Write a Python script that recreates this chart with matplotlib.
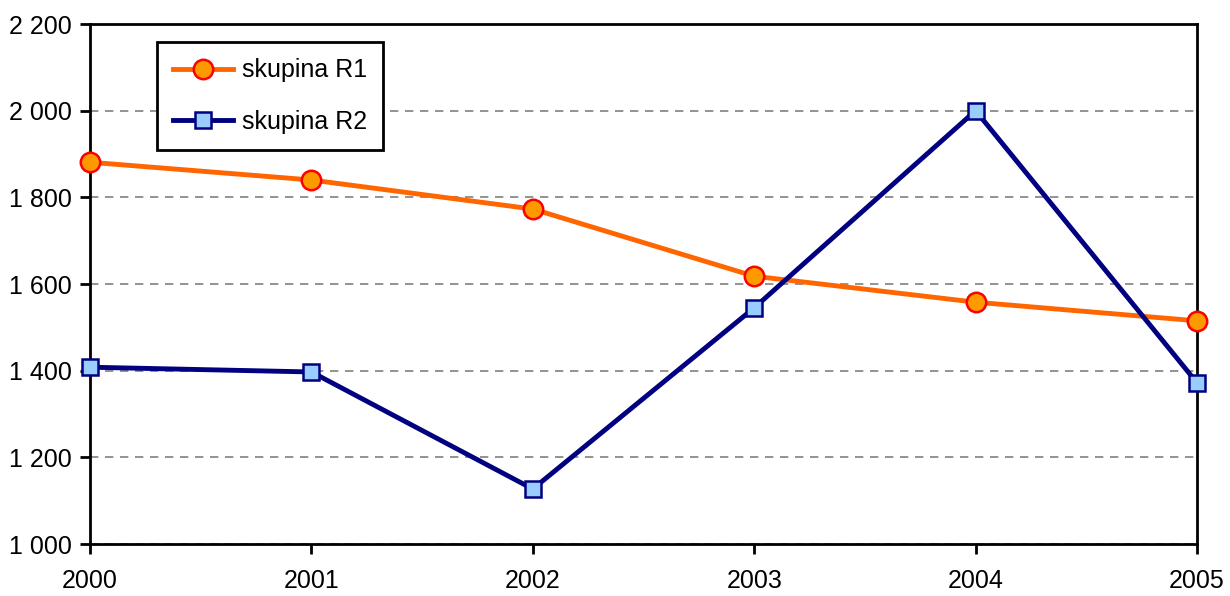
import matplotlib.pyplot as plt
from matplotlib.ticker import FuncFormatter

years = [2000, 2001, 2002, 2003, 2004, 2005]
r1 = [1881, 1840, 1773, 1618, 1558, 1515]
r2 = [1408, 1397, 1127, 1545, 2000, 1372]
labels = ["skupina R1", "skupina R2"]

plt.rcParams['font.family'] = ['Liberation Sans Narrow', 'Liberation Sans', 'DejaVu Sans']

fig = plt.figure(figsize=(12.3, 5.96), dpi=100)
ax = fig.add_axes([90 / 1230, 1 - 544 / 596, (1197 - 90) / 1230, (544 - 24) / 596])

ax.plot(years, r1, color="#ff6600", linewidth=3.5, marker="o", markersize=14,
        markerfacecolor="#ff9900", markeredgecolor="#ff0000", markeredgewidth=1.8,
        label=labels[0], zorder=3, clip_on=False)
ax.plot(years, r2, color="#000080", linewidth=3.5, marker="s", markersize=12,
        markerfacecolor="#99ccff", markeredgecolor="#000080", markeredgewidth=1.8,
        label=labels[1], zorder=3, clip_on=False)

ax.set_xlim(2000, 2005)
ax.set_ylim(1000, 2200)
ax.set_xticks(years)
ax.set_yticks(range(1000, 2201, 200))
ax.yaxis.set_major_formatter(FuncFormatter(lambda v, p: f"{int(v):,}".replace(",", " ")))
ax.tick_params(direction="out", length=7, width=2, labelsize=18, pad=6)
ax.tick_params(axis="x", pad=11)
ax.yaxis.grid(True, linestyle=(0, (5, 4)), color="#808080", linewidth=1.2)
ax.set_axisbelow(True)
for side in ["left", "bottom", "top", "right"]:
    ax.spines[side].set_linewidth(2)
    ax.spines[side].set_color("black")

leg = ax.legend(loc="upper left", bbox_to_anchor=(67 / 1107, 1 - 18 / 520),
                fontsize=18, fancybox=False, framealpha=1, edgecolor="black",
                handlelength=2.4, borderpad=0.65, labelspacing=1.1, handletextpad=0.35,
                borderaxespad=0)
leg.get_frame().set_linewidth(2)

fig.savefig("out.png", dpi=100)
